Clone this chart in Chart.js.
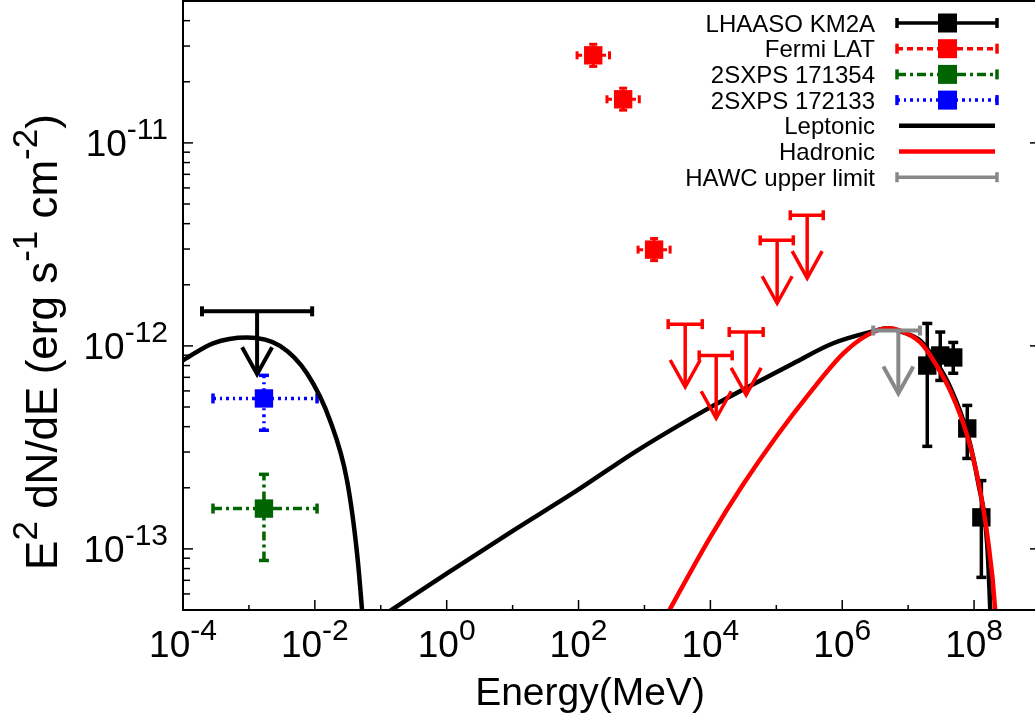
<!DOCTYPE html>
<html lang="en">
<head>
  <meta charset="UTF-8">
  <title>SED</title>
  <style>
    html, body { margin: 0; padding: 0; background: #fff; overflow: hidden; }
    #sed { display: block; }
  </style>
</head>
<body>
  <canvas id="sed" width="1045" height="728"></canvas>

  <script src="https://cdn.jsdelivr.net/npm/chart.js"></script>
  <script>
    // LHAASO KM2A (E in MeV, E2dN/dE in erg cm-2 s-1)
    var kmE  = [1.95e7, 3.07e7, 4.83e7, 7.88e7, 1.29e8];
    var kmF  = [8.0e-13, 8.97e-13, 8.77e-13, 3.92e-13, 1.43e-13];
    var kmLo = [3.2e-13, 6.76e-13, 7.33e-13, 2.79e-13, 7.24e-14];
    var kmHi = [1.29e-12, 1.17e-12, 1.04e-12, 5.09e-13, 2.17e-13];

    // Fermi LAT points
    var latE   = [167, 475, 1400];
    var latELo = [95, 270, 800];
    var latEHi = [295, 835, 2450];
    var latF   = [2.70e-11, 1.64e-11, 2.98e-12];
    var latLo  = [2.38e-11, 1.45e-11, 2.63e-12];
    var latHi  = [3.06e-11, 1.86e-11, 3.38e-12];

    // Fermi LAT upper limits
    var latUlE  = [4150, 12250, 34900, 1.03e5, 2.94e5];
    var latUlLo = [2290, 6760, 19300, 5.7e4, 1.63e5];
    var latUlHi = [7520, 21400, 63200, 1.81e5, 5.15e5];
    var latUlF  = [1.28e-12, 8.98e-13, 1.17e-12, 3.31e-12, 4.40e-12];

    // Swift 2SXPS sources
    var sxE = [1.69e-3], sxELo = [2.85e-4], sxEHi = [1.08e-2];
    var sx171354F = [1.58e-13], sx171354Lo = [8.77e-14], sx171354Hi = [2.33e-13];
    var sx172133F = [5.51e-13], sx172133Lo = [3.84e-13], sx172133Hi = [7.16e-13];

    // X-ray upper limit (black) and HAWC upper limit (grey)
    var xUlE = [1.33e-3], xUlLo = [1.94e-4], xUlHi = [9.1e-3], xUlF = [1.48e-12];
    var hawcE = [7.1e6], hawcLo = [2.95e6], hawcHi = [1.51e7], hawcF = [1.19e-12];
    var ulDrop = 0.49;   // arrow tip = limit * ulDrop

    // Leptonic model: synchrotron + inverse Compton
    var synE = [1e-4, 2.85e-4, 9.35e-4, 2.96e-3, 7.62e-3, 1.7e-2, 3.08e-2, 4.37e-2, 5.2e-2, 5.6e-2];
    var synF = [8.49e-13, 1.03e-12, 1.10e-12, 1.00e-12, 7.31e-13, 4.29e-13, 2.17e-13, 9.5e-14, 5e-14, 3.6e-14];
    var icE = [0.12, 1.01, 10.2, 95, 774, 9930, 3.15e4, 1.8e5, 7.3e5, 2.95e6, 4.82e6, 7.59e6, 1.53e7, 2.41e7, 4.36e7, 7.89e7, 1.16e8, 1.58e8, 1.76e8, 1.85e8];
    var icF = [4.8e-14, 7.57e-14, 1.23e-13, 1.94e-13, 3.05e-13, 4.98e-13, 6.1e-13, 8.2e-13, 1.03e-12, 1.18e-12, 1.22e-12, 1.18e-12, 1.06e-12, 8.77e-13, 6.25e-13, 3.71e-13, 2.10e-13, 1.06e-13, 5e-14, 3e-14];

    // Hadronic model
    var hadE = [2000, 9930, 3.15e4, 1.03e5, 3.27e5, 1.04e6, 2.4e6, 4.82e6, 7.59e6, 1.53e7, 2.41e7, 4.36e7, 7.89e7, 1.16e8, 1.58e8, 2.09e8, 2.2e8];
    var hadF = [4.5e-14, 1.14e-13, 2.08e-13, 3.62e-13, 5.9e-13, 9.18e-13, 1.13e-12, 1.22e-12, 1.19e-12, 1.04e-12, 8.5e-13, 6.0e-13, 3.6e-13, 2.15e-13, 1.18e-13, 5e-14, 3.5e-14];

    // axes
    var xMin = 1e-4, xMax = 1e9, yMin = 5e-14, yMax = 5e-11;
    var xMajorExp = [-4, -2, 0, 2, 4, 6, 8];
    var xMinorExp = [-3, -1, 1, 3, 5, 7];
    var yMajorExp = [-13, -12, -11];

    var legendLabels = ['LHAASO KM2A', 'Fermi LAT', '2SXPS 171354', '2SXPS 172133', 'Leptonic', 'Hadronic', 'HAWC upper limit'];

    var FONT = '"Liberation Sans", Arial, sans-serif';

    function pts(xs, ys) {
      return xs.map(function(x, i) { return { x: x, y: ys[i] }; });
    }

    function seg(ctx, x1, y1, x2, y2) {
      ctx.beginPath(); ctx.moveTo(x1, y1); ctx.lineTo(x2, y2); ctx.stroke();
    }

    // text with superscripts: parts = [[text, isSup], ...]
    function supText(ctx, parts, x, y, size, align) {
      var supSize = Math.round(size * 0.8), raise = size * 0.45;
      var w = 0;
      parts.forEach(function(p) {
        ctx.font = (p[1] ? supSize : size) + 'px ' + FONT;
        w += ctx.measureText(p[0]).width;
      });
      var cx = align === 'right' ? x - w : (align === 'center' ? x - w / 2 : x);
      ctx.textAlign = 'left';
      ctx.textBaseline = 'alphabetic';
      parts.forEach(function(p) {
        ctx.font = (p[1] ? supSize : size) + 'px ' + FONT;
        ctx.fillText(p[0], cx, p[1] ? y - raise : y);
        cx += ctx.measureText(p[0]).width;
      });
    }

    var errorBars = {
      id: 'errorBars',
      beforeDatasetDraw: function(chart, args) {
        var ds = chart.data.datasets[args.index];
        if (!ds.err) return;
        var ctx = chart.ctx, xs = chart.scales.x, ys = chart.scales.y, e = ds.err;
        ctx.save();
        ctx.strokeStyle = ds.backgroundColor;
        ctx.lineWidth = e.width;
        ctx.setLineDash(e.dash || []);
        ds.data.forEach(function(p, i) {
          var px = xs.getPixelForValue(p.x), py = ys.getPixelForValue(p.y);
          if (e.yLo) {
            var y1 = ys.getPixelForValue(e.yLo[i]), y2 = ys.getPixelForValue(e.yHi[i]);
            seg(ctx, px, y1, px, y2);
            ctx.setLineDash([]);
            seg(ctx, px - e.cap, y1, px + e.cap, y1);
            seg(ctx, px - e.cap, y2, px + e.cap, y2);
            ctx.setLineDash(e.dash || []);
          }
          if (e.xLo) {
            var x1 = xs.getPixelForValue(e.xLo[i]), x2 = xs.getPixelForValue(e.xHi[i]);
            seg(ctx, x1, py, x2, py);
            ctx.setLineDash([]);
            seg(ctx, x1, py - e.cap, x1, py + e.cap);
            seg(ctx, x2, py - e.cap, x2, py + e.cap);
            ctx.setLineDash(e.dash || []);
          }
        });
        ctx.restore();
      }
    };

    // upper limits: horizontal bar + arrow down
    var upperLimits = {
      id: 'upperLimits',
      afterDatasetsDraw: function(chart) {
        var ctx = chart.ctx, xs = chart.scales.x, ys = chart.scales.y;
        var sets = [
          { e: latUlE, lo: latUlLo, hi: latUlHi, f: latUlF, c: '#ff0000', w: 3.5 },
          { e: xUlE, lo: xUlLo, hi: xUlHi, f: xUlF, c: '#000000', w: 4 },
          { e: hawcE, lo: hawcLo, hi: hawcHi, f: hawcF, c: '#888888', w: 4 }
        ];
        ctx.save();
        sets.forEach(function(s) {
          ctx.strokeStyle = s.c;
          ctx.lineWidth = s.w;
          s.e.forEach(function(e, i) {
            var px = xs.getPixelForValue(e), py = ys.getPixelForValue(s.f[i]);
            var x1 = xs.getPixelForValue(s.lo[i]), x2 = xs.getPixelForValue(s.hi[i]);
            var tip = ys.getPixelForValue(s.f[i] * ulDrop);
            seg(ctx, x1, py, x2, py);
            seg(ctx, x1, py - 5, x1, py + 5);
            seg(ctx, x2, py - 5, x2, py + 5);
            seg(ctx, px, py, px, tip);
            ctx.beginPath();
            ctx.moveTo(px - 15, tip - 27);
            ctx.lineTo(px, tip);
            ctx.lineTo(px + 15, tip - 27);
            ctx.stroke();
          });
        });
        ctx.restore();
      }
    };

    var frame = {
      id: 'frame',
      afterDraw: function(chart) {
        var ctx = chart.ctx, a = chart.chartArea, xs = chart.scales.x, ys = chart.scales.y;
        ctx.save();
        ctx.strokeStyle = '#000';
        ctx.fillStyle = '#000';
        ctx.lineWidth = 2;
        ctx.strokeRect(a.left, a.top, a.right - a.left, a.bottom - a.top);
        ctx.lineWidth = 1.5;
        xMajorExp.forEach(function(d) {
          var px = xs.getPixelForValue(Math.pow(10, d));
          seg(ctx, px, a.bottom, px, a.bottom - 10);
          supText(ctx, [['10', 0], [String(d), 1]], px, 657, 37, 'center');
        });
        xMinorExp.forEach(function(d) {
          var px = xs.getPixelForValue(Math.pow(10, d));
          seg(ctx, px, a.bottom, px, a.bottom - 5);
        });
        for (var d = -14; d <= -11; d++) {
          for (var m = 1; m <= 9; m++) {
            var v = m * Math.pow(10, d);
            if (v < yMin || v > yMax) continue;
            var py = ys.getPixelForValue(v);
            seg(ctx, a.left, py, a.left + (m === 1 ? 10 : 7), py);
          }
        }
        yMajorExp.forEach(function(d) {
          var py = ys.getPixelForValue(Math.pow(10, d));
          seg(ctx, a.right, py, a.right - 10, py);
          supText(ctx, [['10', 0], [String(d), 1]], 168, py + 13, 37, 'right');
        });
        supText(ctx, [['Energy(MeV)', 0]], 590, 705, 39, 'center');
        ctx.translate(57, 342);
        ctx.rotate(-Math.PI / 2);
        supText(ctx, [['E', 0], ['2', 1], [' dN/dE (erg s', 0], ['-1', 1], [' cm', 0], ['-2', 1], [')', 0]], 0, 0, 44, 'center');
        ctx.restore();
      }
    };

    var sedLegend = {
      id: 'sedLegend',
      afterDraw: function(chart) {
        var ctx = chart.ctx;
        var styles = [
          { c: '#000000', dash: [], w: 3.5, err: true, sq: true },
          { c: '#ff0000', dash: [6, 4], w: 3.5, err: true, sq: true },
          { c: '#006400', dash: [9, 4, 3, 4], w: 3.5, err: true, sq: true },
          { c: '#0000ff', dash: [3, 4, 2, 4], w: 3.5, err: true, sq: true },
          { c: '#000000', dash: [], w: 4.5 },
          { c: '#ff0000', dash: [], w: 4.5 },
          { c: '#888888', dash: [], w: 3.5, err: true }
        ];
        ctx.save();
        legendLabels.forEach(function(t, i) {
          var y = 23 + i * 25.7, s = styles[i];
          ctx.fillStyle = '#000';
          supText(ctx, [[t, 0]], 875, y + 8.5, 24, 'right');
          ctx.strokeStyle = s.c;
          ctx.lineWidth = s.w;
          ctx.setLineDash(s.dash);
          seg(ctx, s.err ? 897 : 899, y, s.err ? 997 : 995, y);
          ctx.setLineDash([]);
          if (s.err) {
            seg(ctx, 897, y - 5, 897, y + 5);
            seg(ctx, 997, y - 5, 997, y + 5);
          }
          if (s.sq) {
            ctx.fillStyle = s.c;
            ctx.fillRect(938, y - 9.5, 19, 19);
          }
        });
        ctx.restore();
      }
    };

    var ctx = document.getElementById('sed').getContext('2d');
    new Chart(ctx, {
      type: 'scatter',
      data: {
        datasets: [
          {
            label: 'LHAASO KM2A', data: pts(kmE, kmF), order: 7,
            backgroundColor: '#000000', pointStyle: 'rect', pointRadius: 13, pointBorderWidth: 0,
            err: { yLo: kmLo, yHi: kmHi, width: 3.5, cap: 5 }
          },
          {
            label: 'Fermi LAT', data: pts(latE, latF), order: 6,
            backgroundColor: '#ff0000', pointStyle: 'rect', pointRadius: 13, pointBorderWidth: 0,
            err: { xLo: latELo, xHi: latEHi, yLo: latLo, yHi: latHi, width: 3, cap: 4, dash: [5, 3] }
          },
          {
            label: '2SXPS 171354', data: pts(sxE, sx171354F), order: 5,
            backgroundColor: '#006400', pointStyle: 'rect', pointRadius: 13, pointBorderWidth: 0,
            err: { xLo: sxELo, xHi: sxEHi, yLo: sx171354Lo, yHi: sx171354Hi, width: 3.5, cap: 5, dash: [9, 4, 3, 4] }
          },
          {
            label: '2SXPS 172133', data: pts(sxE, sx172133F), order: 4,
            backgroundColor: '#0000ff', pointStyle: 'rect', pointRadius: 13, pointBorderWidth: 0,
            err: { xLo: sxELo, xHi: sxEHi, yLo: sx172133Lo, yHi: sx172133Hi, width: 3.5, cap: 5, dash: [3, 4, 2, 4] }
          },
          {
            label: 'Leptonic', type: 'line', data: pts(synE, synF), order: 3,
            borderColor: '#000000', borderWidth: 4.5, pointRadius: 0, cubicInterpolationMode: 'monotone'
          },
          {
            label: 'Leptonic IC', type: 'line', data: pts(icE, icF), order: 2,
            borderColor: '#000000', borderWidth: 4.5, pointRadius: 0, cubicInterpolationMode: 'monotone'
          },
          {
            label: 'Hadronic', type: 'line', data: pts(hadE, hadF), order: 1,
            borderColor: '#ff0000', borderWidth: 4.5, pointRadius: 0, cubicInterpolationMode: 'monotone'
          }
        ]
      },
      options: {
        responsive: false,
        animation: false,
        events: [],
        layout: { autoPadding: false, padding: { top: 1, right: 5, left: 0, bottom: 0 } },
        elements: { line: { capBezierPoints: false } },
        plugins: { legend: { display: false }, tooltip: { enabled: false } },
        scales: {
          x: {
            type: 'logarithmic', min: xMin, max: xMax, bounds: 'data',
            ticks: { display: false }, grid: { display: false }, border: { display: false },
            afterFit: function(s) { s.height = 118; }
          },
          y: {
            type: 'logarithmic', min: yMin, max: yMax, bounds: 'data',
            ticks: { display: false }, grid: { display: false }, border: { display: false },
            afterFit: function(s) { s.width = 183; }
          }
        }
      },
      plugins: [errorBars, upperLimits, frame, sedLegend]
    });
  </script>
</body>
</html>
